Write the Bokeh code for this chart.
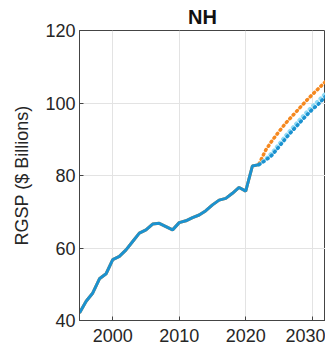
from bokeh.plotting import figure
from bokeh.embed import file_html
from bokeh.resources import INLINE
from bokeh.models import FixedTicker, Range1d

years_hist = list(range(1995, 2023))
rgsp_hist = [42.1, 45.3, 47.6, 51.5, 52.9, 56.8, 57.7, 59.5, 61.8, 64.1,
             65.0, 66.6, 66.8, 65.9, 65.0, 67.0, 67.5, 68.4, 69.1, 70.3,
             71.9, 73.2, 73.7, 75.1, 76.7, 75.7, 82.6, 83.0]

years_fc = list(range(2022, 2033))
fc_orange = [83.2, 87.0, 89.7, 92.1, 94.4, 96.4, 98.4, 100.4, 102.3, 104.1, 105.9]
fc_cyan = [83.0, 84.6, 86.4, 88.7, 91.0, 93.1, 95.2, 97.2, 99.1, 100.8, 102.7]
fc_blue = [83.0, 84.2, 85.7, 87.9, 90.2, 92.3, 94.3, 96.3, 98.2, 99.8, 101.8]

x_ticks = [2000, 2010, 2020, 2030]
y_ticks = [40, 60, 80, 100, 120]

FONT = "Liberation Sans"
BLUE = "#1b92d0"
ORANGE = "#f5881f"
CYAN = "#8fdaf5"

p = figure(frame_width=246, frame_height=290, output_backend="svg", toolbar_location=None,
           x_range=Range1d(1995, 2032.0), y_range=Range1d(40, 120),
           title="NH", min_border_left=79, min_border_right=0,
           min_border_top=30, min_border_bottom=25)

p.title.align = "center"
p.title.text_font = FONT
p.title.text_font_size = "20px"
p.title.text_font_style = "bold"
p.title.text_color = "#111111"
p.title.standoff = 6

p.outline_line_color = "#444444"
p.outline_line_width = 1
p.outline_line_alpha = 1

for ax in (p.xaxis[0], p.yaxis[0]):
    ax.axis_line_color = "#444444"
    ax.major_tick_in = 4
    ax.major_tick_out = 0
    ax.minor_tick_line_color = None
    ax.major_tick_line_color = "#444444"
    ax.major_label_text_font = FONT
    ax.major_label_text_font_size = "18px"
    ax.major_label_text_color = "#262626"

p.xaxis[0].ticker = FixedTicker(ticks=x_ticks)
p.yaxis[0].ticker = FixedTicker(ticks=y_ticks)
p.yaxis[0].axis_label = "RGSP ($ Billions)"
p.yaxis[0].axis_label_text_font = FONT
p.yaxis[0].axis_label_text_font_size = "18px"
p.yaxis[0].axis_label_text_font_style = "normal"
p.yaxis[0].axis_label_text_color = "#262626"
p.yaxis[0].axis_label_standoff = 10
p.xaxis[0].major_label_standoff = 8
p.yaxis[0].major_label_standoff = 4

p.xgrid.ticker = FixedTicker(ticks=x_ticks)
p.ygrid.ticker = FixedTicker(ticks=y_ticks)
p.grid.grid_line_color = "#e3e3e3"
p.grid.grid_line_width = 1

p.line(years_hist, rgsp_hist, line_color=ORANGE, line_width=3)
p.line(years_fc, fc_orange, line_color=ORANGE, line_width=3.5,
       line_dash="1 4", line_cap="round")
p.line(years_fc, fc_cyan, line_color=CYAN, line_width=3.5,
       line_dash="1 4", line_cap="round")
p.line(years_fc, fc_blue, line_color=BLUE, line_width=3.5,
       line_dash="1 4", line_cap="round")
p.line(years_hist, rgsp_hist, line_color=BLUE, line_width=3)

open("out.html", "w").write(file_html(p, INLINE))
